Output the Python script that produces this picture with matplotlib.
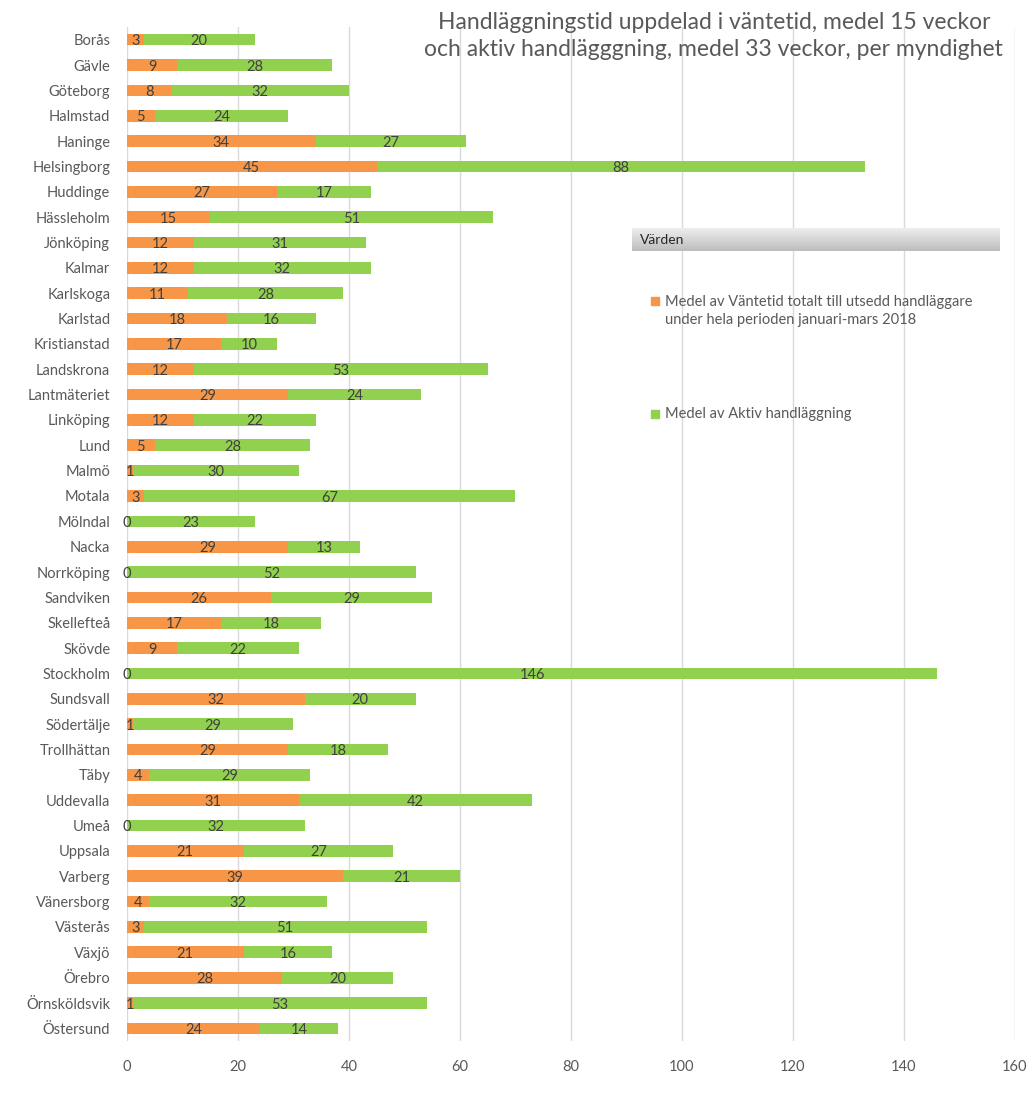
import numpy as np
import matplotlib.pyplot as plt
from matplotlib.colors import LinearSegmentedColormap
from matplotlib.patches import Rectangle

plt.rcParams['font.family'] = ['Lato', 'DejaVu Sans']

kommuner = ['Borås', 'Gävle', 'Göteborg', 'Halmstad', 'Haninge', 'Helsingborg',
            'Huddinge', 'Hässleholm', 'Jönköping', 'Kalmar', 'Karlskoga', 'Karlstad',
            'Kristianstad', 'Landskrona', 'Lantmäteriet', 'Linköping', 'Lund', 'Malmö',
            'Motala', 'Mölndal', 'Nacka', 'Norrköping', 'Sandviken', 'Skellefteå',
            'Skövde', 'Stockholm', 'Sundsvall', 'Södertälje', 'Trollhättan', 'Täby',
            'Uddevalla', 'Umeå', 'Uppsala', 'Varberg', 'Vänersborg', 'Västerås',
            'Växjö', 'Örebro', 'Örnsköldsvik', 'Östersund']
vantetid = [3, 9, 8, 5, 34, 45, 27, 15, 12, 12, 11, 18, 17, 12, 29, 12, 5, 1, 3, 0,
            29, 0, 26, 17, 9, 0, 32, 1, 29, 4, 31, 0, 21, 39, 4, 3, 21, 28, 1, 24]
aktiv = [20, 28, 32, 24, 27, 88, 17, 51, 31, 32, 28, 16, 10, 53, 24, 22, 28, 30, 67, 23,
         13, 52, 29, 18, 22, 146, 20, 29, 18, 29, 42, 32, 27, 21, 32, 51, 16, 20, 53, 14]
xticks = [0, 20, 40, 60, 80, 100, 120, 140, 160]

ORANGE = '#F79646'
GREEN = '#92D050'
TEXT = '#595959'
LABEL = '#404040'

fig = plt.figure(figsize=(10.30, 10.97), dpi=100)
ax = fig.add_axes([0.1233, 0.0510, 0.8621, 0.9244])

y = np.arange(len(kommuner))
v = np.array(vantetid)
a = np.array(aktiv)
ax.barh(y, v, height=0.46, color=ORANGE, zorder=2)
ax.barh(y, a, left=v, height=0.46, color=GREEN, zorder=2)

# segment values written in the middle of each piece
for i in range(len(kommuner)):
    ax.text(v[i] / 2, y[i] + 0.06, str(v[i]), ha='center', va='center',
            fontsize=10.5, color=LABEL, zorder=3)
    ax.text(v[i] + a[i] / 2, y[i] + 0.06, str(a[i]), ha='center', va='center',
            fontsize=10.5, color=LABEL, zorder=3)

ax.set_xlim(0, 160)
ax.set_ylim(len(kommuner) - 0.5, -0.5)
ax.set_xticks(xticks)
ax.set_yticks(y)
ax.set_yticklabels(kommuner)
ax.tick_params(length=0, labelsize=10.5, colors=TEXT)
ax.tick_params(axis='x', pad=14)
ax.tick_params(axis='y', pad=12)
ax.grid(axis='x', color='#d9d9d9', linewidth=1, zorder=0)
ax.set_axisbelow(True)
for s in ax.spines.values():
    s.set_visible(False)

fig.text(0.693, 1 - 36 / 1097, 'Handläggningstid uppdelad i väntetid, medel 15 veckor\n'
         'och aktiv handlägggning, medel 33 veckor, per myndighet',
         ha='center', va='center', fontsize=16.5, color=TEXT, linespacing=1.4)

# legend block on the right, header with grey gradient
hdr = fig.add_axes([632 / 1030, 1 - 251 / 1097, 368 / 1030, 23 / 1097])
grad = np.linspace(0, 1, 50).reshape(-1, 1)
hdr.imshow(grad, aspect='auto', extent=[0, 1, 0, 1],
           cmap=LinearSegmentedColormap.from_list('hdr', ['#f0f0f0', '#bdbdbd']))
hdr.set_axis_off()
hdr.text(0.022, 0.5, 'Värden', ha='left', va='center', fontsize=10, color='#262626')

fig.patches.append(Rectangle((651 / 1030, 1 - 305 / 1097), 8 / 1030, 8 / 1097,
                             transform=fig.transFigure, color=ORANGE))
fig.text(665 / 1030, 1 - 311 / 1097,
         'Medel av Väntetid totalt till utsedd handläggare\nunder hela perioden januari-mars 2018',
         ha='left', va='center', fontsize=10.5, color=TEXT, linespacing=1.45)
fig.patches.append(Rectangle((651 / 1030, 1 - 418 / 1097), 8 / 1030, 8 / 1097,
                             transform=fig.transFigure, color=GREEN))
fig.text(665 / 1030, 1 - 414 / 1097, 'Medel av Aktiv handläggning',
         ha='left', va='center', fontsize=10.5, color=TEXT)

fig.savefig('out.png', dpi=100)
